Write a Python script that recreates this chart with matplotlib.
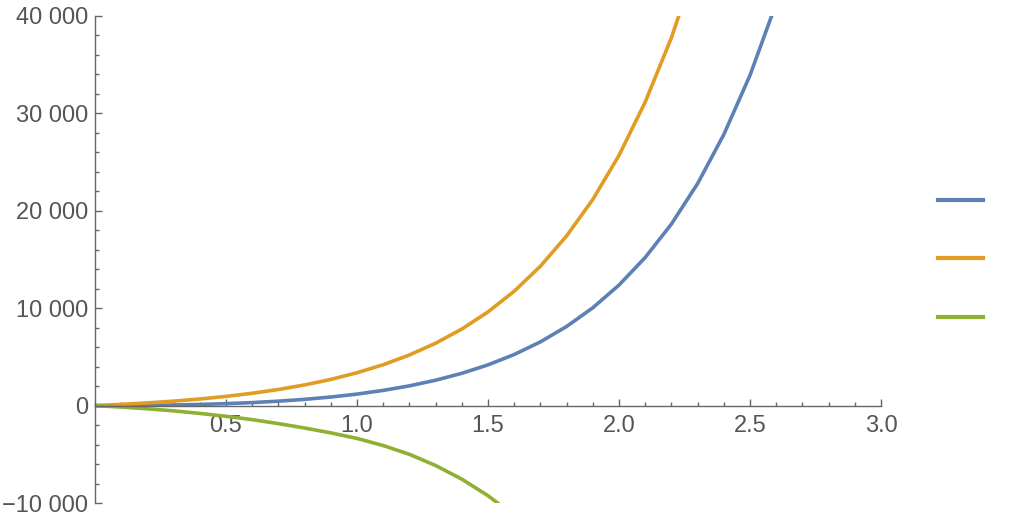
#!/usr/bin/env python3
# Mathematica-style plot: three curves with axes crossing at the origin

import matplotlib
matplotlib.use('Agg')
import matplotlib.pyplot as plt
from matplotlib.ticker import MultipleLocator, FixedLocator, FuncFormatter
from matplotlib.lines import Line2D

# values (x step 0.1)
x_vals = [0.0, 0.1, 0.2, 0.3, 0.4, 0.5, 0.6, 0.7, 0.8, 0.9, 1.0, 1.1, 1.2, 1.3,
          1.4, 1.5, 1.6, 1.7, 1.8, 1.9, 2.0, 2.1, 2.2, 2.3, 2.4, 2.5, 2.6]
blue_vals = [0, 6, 26, 62, 119, 199, 309, 454, 642, 881, 1182, 1559, 2026, 2604,
             3314, 4183, 5245, 6542, 8124, 10042, 12376, 15207, 18637, 22793,
             27827, 33913, 41301]
orange_vals = [0, 125, 275, 458, 678, 944, 1265, 1653, 2122, 2688, 3371, 4198,
               5196, 6402, 7860, 9618, 11742, 14310, 17418, 21162, 25692, 31164,
               37770, 45750]
green_vals = [0, -150, -330, -540, -800, -1100, -1440, -1850, -2300, -2800, -3370,
              -4100, -5000, -6150, -7550, -9250, -11300]

x_major = [0.5, 1.0, 1.5, 2.0, 2.5, 3.0]
y_major = [-10000, 0, 10000, 20000, 30000, 40000]

colors = ['#5e81b5', '#e19c24', '#8fb032']
axis_gray = '#666666'
label_gray = '#555555'

plt.rcParams['font.family'] = ['Liberation Sans', 'DejaVu Sans']

fig = plt.figure(figsize=(10.12, 5.22), dpi=100)
ax = fig.add_axes([95 / 1012, 19 / 522, 786 / 1012, 487 / 522])

series = [blue_vals, orange_vals, green_vals]
for vals, c in zip(series, colors):
    ax.plot(x_vals[:len(vals)], vals, color=c, lw=2.6, solid_joinstyle='round')

ax.set_xlim(0, 3)
ax.set_ylim(-10000, 40000)

# axes through the origin
for side in ['top', 'right']:
    ax.spines[side].set_visible(False)
ax.spines['bottom'].set_position(('data', 0))
for side in ['left', 'bottom']:
    ax.spines[side].set_color(axis_gray)
    ax.spines[side].set_linewidth(1.0)

ax.xaxis.set_major_locator(FixedLocator(x_major))
ax.xaxis.set_minor_locator(MultipleLocator(0.1))
ax.yaxis.set_major_locator(FixedLocator(y_major))
ax.yaxis.set_minor_locator(MultipleLocator(2000))

ax.xaxis.set_major_formatter(FuncFormatter(lambda v, p: f'{v:.1f}'))


def fmt_y(v, p):
    s = f'{abs(int(round(v))):,}'.replace(',', ' ')
    return ('\u2212' + s) if v < 0 else s


ax.yaxis.set_major_formatter(FuncFormatter(fmt_y))

ax.tick_params(axis='both', which='both', direction='in', color=axis_gray,
               width=1.0, labelcolor=label_gray, labelsize=17)
ax.tick_params(axis='both', which='major', length=5)
ax.tick_params(axis='both', which='minor', length=3)
ax.tick_params(axis='x', which='major', pad=7)
ax.tick_params(axis='y', which='major', pad=5)

# legend: colour swatches only
handles = [Line2D([], [], color=c, lw=3) for c in colors]
fig.legend(handles, [' ', ' ', ' '], loc='center left',
           bbox_to_anchor=(925 / 1012, 1 - 259 / 522), frameon=False,
           fontsize=10, handlelength=3.3, labelspacing=3.2, handletextpad=0.2)

fig.savefig('out.png', dpi=100)
